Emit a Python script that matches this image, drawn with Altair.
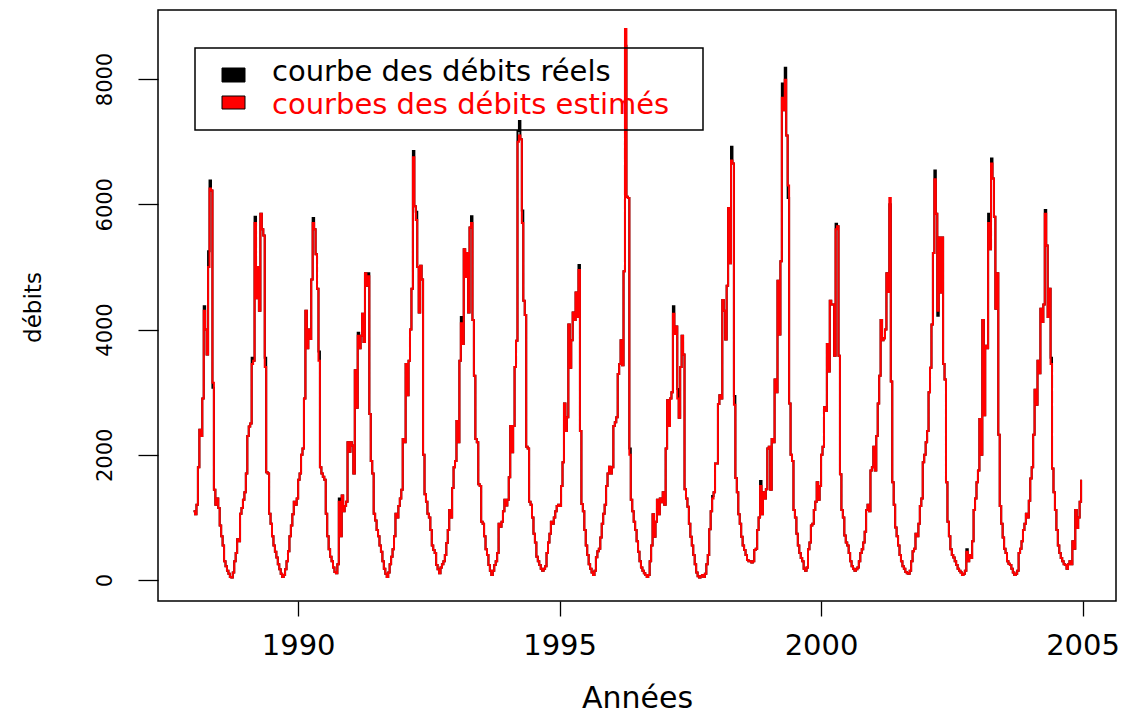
import altair as alt
import pandas as pd

# Décades (10-day periods) per year
PAS_PAR_AN = 36
annees = list(range(1988, 2005))

# Observed flows, 36 decadal values per year
debits_reels = {
    1988: [1100, 1050, 1200, 1800, 2400, 2300, 2900, 4370, 4000, 3600, 5250, 6380,
           6220, 3070, 1440, 1200, 1300, 1150, 870, 700, 550, 300, 220, 150,
           100, 50, 40, 120, 300, 430, 650, 620, 1060, 1150, 1280, 1400],
    1989: [1700, 2300, 2450, 2500, 3550, 3500, 5800, 4500, 5000, 4300, 5850, 5600,
           5500, 3550, 1720, 1700, 1060, 900, 700, 550, 450, 360, 250, 170,
           100, 50, 80, 170, 300, 460, 700, 870, 1050, 1250, 1200, 1300],
    1990: [1600, 1700, 2000, 2100, 2900, 4300, 3700, 4000, 3850, 4800, 5780, 5600,
           5200, 4650, 3650, 1800, 1700, 1650, 1600, 1060, 700, 490, 370, 300,
           200, 130, 110, 250, 1300, 700, 1350, 1100, 1180, 1250, 2200, 2050],
    1991: [2200, 2150, 1700, 3350, 2750, 3950, 3700, 3900, 4250, 3800, 4900, 4700,
           4900, 2650, 1900, 1700, 1060, 950, 800, 700, 550, 450, 300, 180,
           100, 50, 120, 250, 370, 490, 700, 1060, 1000, 1180, 1300, 1440],
    1992: [2250, 2200, 3450, 2950, 3500, 4000, 4650, 6850, 5970, 5880, 5000, 4270,
           5020, 4800, 2000, 1370, 1250, 1060, 1000, 800, 550, 480, 430, 240,
           170, 110, 200, 250, 300, 400, 590, 800, 1120, 1000, 1470, 1800],
    1993: [1900, 2540, 2200, 3500, 4200, 3770, 5280, 4840, 5220, 4270, 5630, 5810,
           4150, 3260, 2250, 2200, 1530, 1500, 930, 900, 700, 490, 400, 240,
           150, 80, 150, 240, 300, 430, 900, 850, 930, 1100, 1280, 1190],
    1994: [1280, 1640, 2460, 2040, 2460, 3400, 3820, 7170, 7330, 7040, 5900, 4460,
           4230, 2130, 2100, 1250, 1200, 1000, 740, 600, 370, 300, 240, 180,
           150, 180, 220, 430, 600, 740, 930, 900, 1000, 1100, 1180, 1200],
    1995: [1180, 1500, 1880, 2820, 2380, 2600, 4080, 3390, 3830, 4270, 4150, 4590,
           4200, 5030, 2380, 1215, 1100, 800, 550, 400, 250, 180, 120, 80,
           150, 365, 460, 500, 680, 900, 1060, 1200, 1500, 1700, 1810, 1700],
    1996: [1800, 2460, 2520, 2600, 3290, 3450, 3830, 3430, 4930, 8530, 6120, 6100,
           2100, 1280, 1100, 930, 800, 620, 450, 300, 200, 150, 110, 80,
           50, 80, 300, 550, 1050, 690, 930, 1280, 1050, 1300, 1240, 1400],
    1997: [1200, 2100, 2870, 2460, 2900, 3000, 4370, 3930, 4050, 3050, 2590, 3400,
           3900, 3600, 1450, 1300, 1170, 900, 690, 550, 400, 250, 120, 60,
           40, 60, 80, 50, 100, 250, 400, 810, 1100, 1340, 1400, 1860],
    1998: [1860, 2810, 2950, 2900, 4470, 4300, 3840, 4700, 5940, 5060, 6920, 6650,
           2940, 1630, 1400, 1050, 900, 690, 550, 480, 400, 320, 300, 300,
           280, 300, 480, 500, 800, 1000, 1580, 1050, 1400, 1300, 1450, 2100],
    1999: [2130, 1440, 2250, 2200, 3200, 3000, 4780, 3920, 5090, 7930, 7500, 8180,
           7100, 6100, 2820, 2000, 1900, 1120, 1000, 740, 550, 430, 350, 300,
           180, 150, 200, 490, 600, 870, 900, 1120, 1250, 1560, 1280, 1500],
    2000: [2000, 2130, 2760, 2700, 3770, 3330, 4460, 4400, 4400, 3580, 5690, 5650,
           3580, 1690, 1120, 1000, 710, 600, 550, 430, 300, 220, 180, 150,
           170, 200, 300, 430, 490, 600, 770, 1120, 1200, 1100, 1750, 1800],
    2001: [2130, 1750, 2300, 2820, 3260, 4150, 3830, 3860, 4000, 4900, 4600, 6000,
           3170, 1560, 1200, 840, 700, 550, 400, 300, 220, 180, 130, 110,
           100, 150, 300, 460, 500, 740, 700, 900, 1180, 1300, 1880, 2000],
    2002: [2200, 2380, 3000, 3390, 4080, 5220, 6540, 5850, 4220, 5470, 4590, 5470,
           3450, 3200, 1560, 930, 700, 490, 400, 360, 300, 240, 180, 150,
           120, 80, 100, 150, 490, 300, 400, 350, 620, 1120, 1300, 1560],
    2003: [1750, 2570, 2000, 4150, 2630, 3740, 3700, 5850, 5280, 6730, 6410, 5800,
           4330, 4900, 2320, 1180, 900, 680, 500, 430, 300, 260, 240, 180,
           120, 80, 100, 150, 430, 500, 620, 800, 900, 1060, 1000, 1265],
    2004: [1620, 1800, 2320, 3040, 2800, 3500, 3300, 4330, 4120, 4400, 5910, 5340,
           4200, 4650, 3550, 1780, 1400, 1120, 800, 550, 430, 350, 300, 250,
           240, 180, 250, 300, 250, 620, 500, 1120, 830, 1000, 1250, 1600],
}

# Model estimates: same as observed except at these (year, decade) entries
debits_estimes_differents = {
    (1988, 7): 4300, (1988, 10): 5000, (1988, 11): 6250, (1988, 13): 3150,
    (1989, 4): 3450, (1989, 6): 5700, (1989, 13): 3400,
    (1990, 10): 5700, (1990, 14): 3500, (1990, 28): 1250,
    (1991, 5): 3900, (1991, 12): 4850,
    (1992, 7): 6750, (1992, 9): 5750,
    (1993, 4): 4100, (1993, 11): 5700,
    (1994, 7): 7000, (1994, 8): 7100, (1994, 10): 5700,
    (1995, 13): 4950,
    (1996, 9): 8800, (1996, 12): 2000,
    (1997, 6): 4250, (1997, 9): 2900, (1997, 33): 1300,
    (1998, 10): 6700, (1998, 12): 2800, (1998, 30): 1500,
    (1999, 9): 7700, (1999, 11): 7990, (1999, 13): 6300,
    (2000, 10): 5600,
    (2001, 11): 6100,
    (2002, 6): 6400, (2002, 8): 4300, (2002, 28): 450,
    (2003, 7): 5700, (2003, 9): 6650,
    (2004, 10): 5850, (2004, 14): 3450,
}

ticks_annees = [1990, 1995, 2000, 2005]
ticks_debits = [0, 2000, 4000, 6000, 8000]
libelles_legende = ["courbe des débits réels", "courbes des débits estimés"]
couleurs_legende = ["black", "red"]

lignes = []
for a in annees:
    for i, v in enumerate(debits_reels[a]):
        t = a + i / PAS_PAR_AN
        lignes.append({"annee": t, "debit": v, "serie": "reel"})
        lignes.append({"annee": t,
                       "debit": debits_estimes_differents.get((a, i), v),
                       "serie": "estime"})
df = pd.DataFrame(lignes)

POLICE = "DejaVu Sans"

x_enc = alt.X(
    "annee:Q",
    scale=alt.Scale(domain=[1987.32, 2005.64], nice=False, zero=False),
    axis=alt.Axis(
        values=ticks_annees, format="d", title="Années",
        tickSize=15, labelPadding=15, labelFontSize=29,
        titleFontSize=30, titleX=479, titleY=106,
        titleAlign="center", titleBaseline="alphabetic",
        labelOverlap=False, labelFlush=False,
    ),
)
y_enc = alt.Y(
    "debit:Q",
    scale=alt.Scale(domain=[-335, 9102], nice=False, zero=False),
    axis=alt.Axis(
        values=ticks_debits, format="d", title="débits",
        tickSize=20, labelPadding=27, labelFontSize=21,
        labelAngle=270, labelAlign="center", labelBaseline="alphabetic",
        titleFontSize=23, titleAngle=270, titleX=-118, titleY=297,
        titleAlign="center", titleBaseline="alphabetic",
        labelOverlap=False, labelFlush=False,
    ),
)

base = alt.Chart(df)

courbe_reelle = base.transform_filter(alt.datum.serie == "reel").mark_line(
    color="black", strokeWidth=2, interpolate="step-after"
).encode(x=x_enc, y=y_enc)

courbe_estimee = base.transform_filter(alt.datum.serie == "estime").mark_line(
    color="#ff0000", strokeWidth=2, interpolate="step-after"
).encode(x=x_enc, y=y_enc)

# Legend drawn by hand: frame, filled squares, coloured labels
une_ligne = alt.Data(values=[{"k": 0}])

cadre = alt.Chart(une_ligne).mark_rect(
    fillOpacity=0, stroke="black", strokeWidth=1.5
).encode(x=alt.value(37), x2=alt.value(545), y=alt.value(38), y2=alt.value(120))

carre_noir = alt.Chart(une_ligne).mark_rect(
    fill=couleurs_legende[0], stroke="black", strokeWidth=1
).encode(x=alt.value(64), x2=alt.value(87), y=alt.value(58), y2=alt.value(72))

carre_rouge = alt.Chart(une_ligne).mark_rect(
    fill=couleurs_legende[1], stroke="black", strokeWidth=1
).encode(x=alt.value(64), x2=alt.value(87), y=alt.value(86), y2=alt.value(99))

texte_noir = alt.Chart(une_ligne).mark_text(
    text=libelles_legende[0], font=POLICE, fontSize=29, align="left",
    baseline="alphabetic", color=couleurs_legende[0]
).encode(x=alt.value(114), y=alt.value(71))

texte_rouge = alt.Chart(une_ligne).mark_text(
    text=libelles_legende[1], font=POLICE, fontSize=29, align="left",
    baseline="alphabetic", color=couleurs_legende[1]
).encode(x=alt.value(114), y=alt.value(104))

chart = alt.layer(
    courbe_reelle, courbe_estimee, cadre, carre_noir, carre_rouge,
    texte_noir, texte_rouge
).properties(
    width=958, height=591,
    padding={"left": 158, "top": 10, "right": 7, "bottom": 112},
    autosize=alt.AutoSizeParams(type="none"),
    background="white",
).configure_view(
    stroke="black", strokeWidth=1.5
).configure_axis(
    grid=False, domain=False, tickColor="black", tickWidth=1.3,
    labelFont=POLICE, titleFont=POLICE, labelColor="black",
    titleColor="black", titleFontWeight="normal",
)

chart.save("out.html", embed_options={"renderer": "svg", "actions": False})
